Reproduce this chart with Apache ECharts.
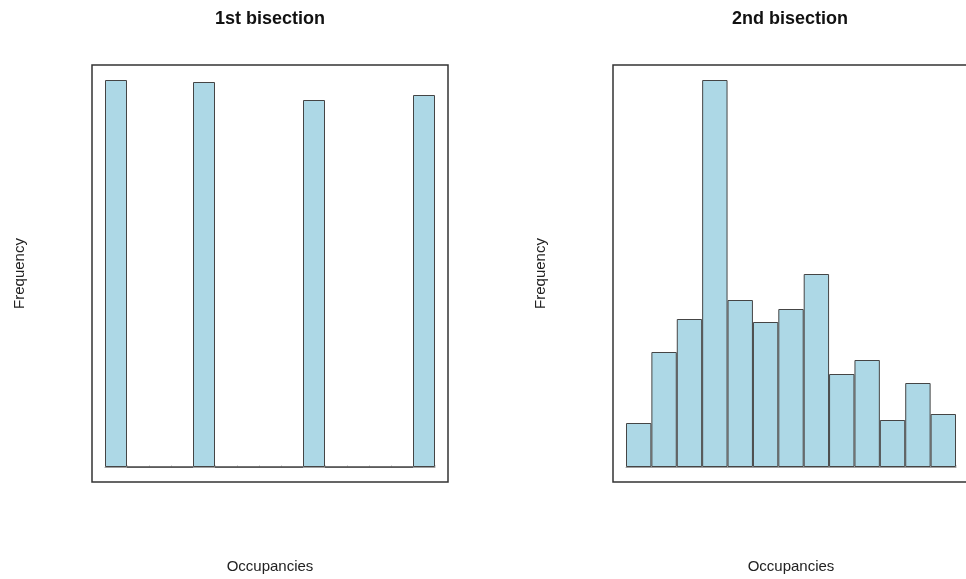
<!DOCTYPE html>
<html>
<head>
<meta charset="utf-8">
<script src="https://cdn.jsdelivr.net/npm/echarts@6/dist/echarts.min.js"></script>
<style>
  html, body { margin: 0; padding: 0; background: #fff; }
  #chart { width: 966px; height: 579px; }
</style>
</head>
<body>
<div id="chart"></div>
<script>
// Histogram bins (no tick labels in the picture, so bins are just indexes)
const bins1 = ['1', '2', '3', '4', '5', '6', '7', '8', '9', '10', '11', '12', '13', '14', '15'];
const counts1 = [387, 0, 0, 0, 385, 0, 0, 0, 0, 367, 0, 0, 0, 0, 372];

const bins2 = ['1', '2', '3', '4', '5', '6', '7', '8', '9', '10', '11', '12', '13'];
const counts2 = [44, 115, 148, 387, 167, 145, 158, 193, 93, 107, 47, 84, 53];

const titles = ['1st bisection', '2nd bisection'];

const font = '"Liberation Sans", Arial, sans-serif';
const barFill = '#ADD8E6';
const barEdge = '#454545';

const chart = echarts.init(document.getElementById('chart'));

function xAxisFor(gridIndex, data) {
  return {
    type: 'category',
    gridIndex: gridIndex,
    data: data,
    axisLine: { show: true, lineStyle: { color: '#a0a0a0', width: 1 } },
    axisTick: { show: true, inside: true, length: 2, interval: 0, lineStyle: { color: '#dadada' } },
    axisLabel: { show: false },
    splitLine: { show: false },
    name: 'Occupancies',
    nameLocation: 'middle',
    nameGap: 92,
    nameTextStyle: { fontFamily: font, fontSize: 15, color: '#222' }
  };
}

function yAxisFor(gridIndex) {
  return {
    type: 'value',
    gridIndex: gridIndex,
    min: 0,
    max: 'dataMax',
    axisLine: { show: false },
    axisTick: { show: false },
    axisLabel: { show: false },
    splitLine: { show: false },
    name: 'Frequency',
    nameLocation: 'middle',
    nameGap: 78,
    nameTextStyle: { fontFamily: font, fontSize: 15, color: '#222' }
  };
}

function barSeries(index, data) {
  return {
    type: 'bar',
    xAxisIndex: index,
    yAxisIndex: index,
    data: data,
    barCategoryGap: '0%',
    itemStyle: { color: barFill, borderColor: barEdge, borderWidth: 1 },
    silent: true
  };
}

chart.setOption({
  animation: false,
  backgroundColor: '#fff',
  grid: [
    { left: 105, top: 80, width: 330, height: 387 },
    { left: 626, top: 80, width: 330, height: 387 }
  ],
  xAxis: [xAxisFor(0, bins1), xAxisFor(1, bins2)],
  yAxis: [yAxisFor(0), yAxisFor(1)],
  series: [barSeries(0, counts1), barSeries(1, counts2)],
  graphic: [
    // plot frames
    { type: 'rect', shape: { x: 92, y: 65, width: 356, height: 417 },
      style: { fill: 'none', stroke: '#333', lineWidth: 1.5 }, silent: true },
    { type: 'rect', shape: { x: 613, y: 65, width: 356, height: 417 },
      style: { fill: 'none', stroke: '#333', lineWidth: 1.5 }, silent: true },
    // panel titles
    { type: 'text', x: 270, y: 19,
      style: { text: titles[0], textAlign: 'center', textVerticalAlign: 'middle',
               font: 'bold 18px ' + font, fill: '#111' } },
    { type: 'text', x: 790, y: 19,
      style: { text: titles[1], textAlign: 'center', textVerticalAlign: 'middle',
               font: 'bold 18px ' + font, fill: '#111' } }
  ]
});
</script>
</body>
</html>
